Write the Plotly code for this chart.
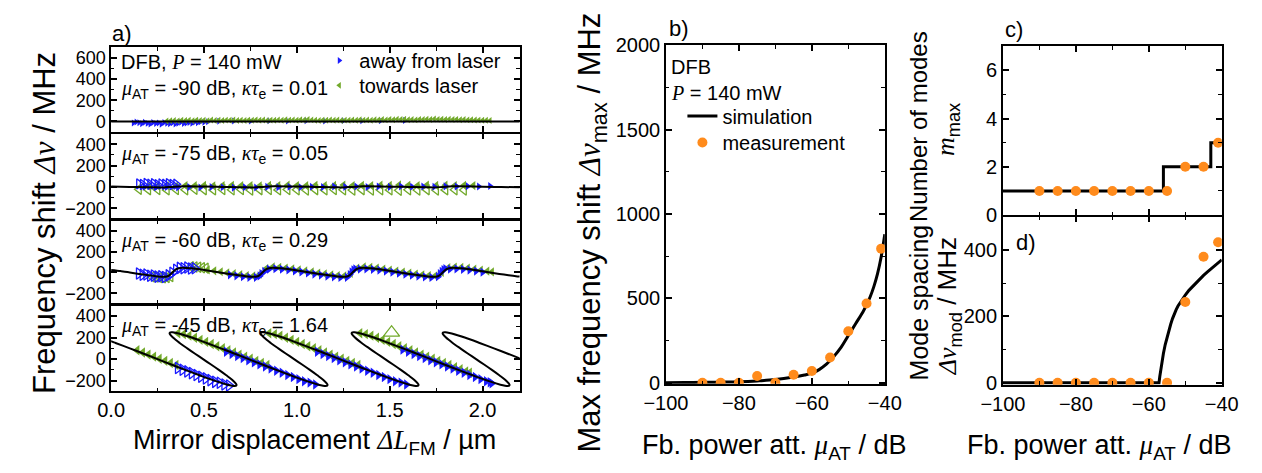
import plotly.graph_objects as go

W, H = 1262, 473
FONT = "Liberation Sans, Arial, sans-serif"
BLUE = "#1a1aff"
GREEN = "#72a92b"
ORANGE = "#ff8b1c"

# ---------------- panel a) : simulation curves ----------------
a1_sim_x = [0.0, 2.2]
a1_sim_y = [0, 0]

a2_sim_x = [0.0, 0.1, 0.2, 0.28, 0.33, 0.39, 0.5, 0.6, 0.7, 0.77, 0.815, 0.87, 1.0, 1.1, 1.2, 1.25,
            1.30, 1.355, 1.5, 1.6, 1.7, 1.735, 1.785, 1.84, 2.0, 2.1, 2.2]
a2_sim_y = [3, 0, -3, -5, 0, 5, 3, 0, -3, -5, 0, 5, 3, 0, -3, -5, 0, 5, 2, 0, -3, -5, 0, 5, 2, -1, -4]

a3_sim_x = [0.00, 0.05, 0.10, 0.15, 0.20, 0.24, 0.28, 0.30, 0.315, 0.33, 0.345, 0.36, 0.385, 0.43, 0.485,
            0.535, 0.585, 0.635, 0.685, 0.725, 0.765, 0.785, 0.80, 0.815, 0.83, 0.845, 0.87, 0.915, 0.97,
            1.02, 1.07, 1.12, 1.17, 1.21, 1.25, 1.27, 1.285, 1.30, 1.315, 1.33, 1.355, 1.40, 1.455,
            1.505, 1.555, 1.605, 1.655, 1.695, 1.735, 1.755, 1.77, 1.785, 1.80, 1.815, 1.84, 1.885, 1.94,
            1.99, 2.04, 2.09, 2.14, 2.18, 2.20]
a3_sim_y = [24, 14, 0, -14, -27, -36, -41, -38, -25, 0, 25, 38, 45, 40, 28,
            14, 0, -14, -27, -36, -41, -38, -25, 0, 25, 38, 45, 40, 28,
            14, 0, -14, -27, -36, -41, -38, -25, 0, 25, 38, 45, 40, 28,
            14, 0, -14, -27, -36, -41, -38, -25, 0, 25, 38, 45, 40, 28,
            14, 0, -14, -27, -36, -39]

# kappa*tau_e = 1.64: one loop (forward branch from the upper tip,
# backward branch from the lower tip) and the x positions of the upper tips
a4_tip_x = [-0.165, 0.325, 0.815, 1.305, 1.795]
a4_fwd_dx = [0, 0.0055, 0.014, 0.039, 0.109, 0.189, 0.266, 0.341, 0.415, 0.489, 0.564, 0.641,
             0.721, 0.791, 0.816, 0.8245, 0.830]
a4_fwd_y = [250, 249.5, 247.5, 237.5, 200, 150, 100, 50, 0, -50, -100, -150, -200, -237.5,
            -247.5, -249.5, -250]
a4_bwd_dx = [0, 0.008, 0.010, -0.008, -0.045, -0.085, -0.127, -0.170, -0.213, -0.255, -0.296,
             -0.332, -0.350, -0.348, -0.340]
a4_bwd_y = [-250, -247.5, -237.5, -200, -150, -100, -50, 0, 50, 100, 150, 200, 237.5, 247.5, 250]

# ---------------- panel a) : measurements ----------------
a1_away_x = [0.12, 0.135, 0.15, 0.165, 0.18, 0.195, 0.21, 0.225, 0.24, 0.255, 0.27, 0.285, 0.30, 0.315,
             0.33, 0.345, 0.36, 0.375, 0.39, 0.405, 0.42, 0.435, 0.45, 0.465, 0.48, 0.50, 0.52,
             0.58, 0.66, 0.75, 0.85, 0.95, 1.05, 1.15, 1.25, 1.35, 1.45, 1.58]
a1_away_y = [-15, -5, -12, -22, -8, -18, -25, -10, -20, -14, -26, -9, -18, -22, -12, -24, -16, -8, -20,
             -14, -10, -18, -6, -12, -4, -8, -2, 2, 5, 3, 6, 4, 7, 5, 8, 6, 7, 9]
a1_toward_x = [0.30, 0.32, 0.34, 0.36, 0.38, 0.40, 0.42, 0.44, 0.46, 0.48, 0.50, 0.52, 0.54, 0.56,
               0.58, 0.60, 0.62, 0.64, 0.66, 0.68, 0.70, 0.72, 0.74, 0.76, 0.78, 0.80, 0.82, 0.84,
               0.86, 0.88, 0.90, 0.92, 0.94, 0.96, 0.98, 1.00, 1.02, 1.04, 1.06, 1.08, 1.10, 1.12,
               1.14, 1.16, 1.18, 1.20, 1.22, 1.24, 1.26, 1.28, 1.30, 1.32, 1.34, 1.36, 1.38, 1.40,
               1.42, 1.44, 1.46, 1.48, 1.50, 1.52, 1.54, 1.56, 1.58, 1.60, 1.62, 1.64, 1.66, 1.68,
               1.70, 1.72, 1.74, 1.76, 1.78, 1.80, 1.82, 1.84, 1.86, 1.88, 1.90, 1.92, 1.94, 1.96,
               1.98, 2.00, 2.02, 2.04]
a1_toward_y = [5, 8, 10, 6, 12, 9, 11, 7, 13, 10, 12, 8, 14, 10, 12, 9, 13, 11, 14, 10,
               12, 9, 13, 11, 15, 12, 14, 10, 13, 11, 15, 12, 16, 13, 15, 12, 17, 14, 18, 15,
               12, 9, 13, 11, 15, 12, 14, 10, 13, 11, 15, 12, 16, 13, 15, 12, 17, 14, 18, 15,
               20, 17, 22, 18, 21, 17, 19, 15, 20, 18, 22, 19, 23, 20, 21, 18, 22, 19, 20, 17,
               19, 15, 16, 14, 13, 12, 11, 10]

a2_away_open_x = [0.15, 0.17, 0.19, 0.21, 0.23, 0.25, 0.27, 0.29, 0.31, 0.33, 0.35]
a2_away_open_y = [28, 22, 32, 25, 30, 20, 28, 24, 30, 22, 26]
a2_away_x = [0.18, 0.24, 0.30, 0.36, 0.42, 0.48, 0.54, 0.60, 0.66, 0.72, 0.78, 0.84, 0.90, 0.96,
             1.02, 1.08, 1.14, 1.20, 1.26, 1.32, 1.38, 1.44, 1.50, 1.56, 1.62, 1.68, 1.74, 1.80,
             1.86, 1.92, 1.98, 2.04]
a2_away_y = [2, -4, 0, -6, -2, -5, -1, -4, -7, -3, -5, 0, -4, 2, -3, 1, -2, 3, 0, 4,
             -1, 3, 0, 5, 2, 4, 1, 5, 3, 6, 4, 8]
a2_toward_x = [0.20, 0.25, 0.30, 0.35, 0.40, 0.45, 0.50, 0.55, 0.60, 0.65, 0.70, 0.75, 0.80, 0.85,
               0.90, 0.95, 1.00, 1.05, 1.10, 1.15, 1.20, 1.25, 1.30, 1.35, 1.40, 1.45, 1.50, 1.55,
               1.60, 1.65, 1.70, 1.75, 1.80, 1.85, 1.90, 1.95]
a2_toward_y = [8, 10, 12, 9, 13, 11, 14, 10, 12, 15, 11, 13, 10, 14, 12, 16, 13, 11, 15, 12,
               14, 17, 13, 15, 12, 16, 14, 18, 15, 13, 17, 14, 16, 12, 15, 13]
a2_toward_open_x = [0.15, 0.20, 0.25, 0.30, 0.35, 0.40, 0.45, 0.50, 0.55, 0.60, 0.65, 0.70, 0.75,
                    0.80, 0.85, 0.90, 0.95, 1.00, 1.05, 1.10, 1.15, 1.20, 1.25, 1.30, 1.35, 1.40,
                    1.45, 1.50, 1.55, 1.60, 1.65, 1.70, 1.75, 1.80, 1.85, 1.90]
a2_toward_open_y = [-22, -26, -24, -28, -25, -27, -23, -26, -28, -24, -27, -25, -29, -26, -24, -28,
                    -25, -27, -30, -26, -28, -25, -27, -29, -26, -30, -27, -28, -31, -27, -29, -26,
                    -30, -28, -27, -29]

a3_away_open_x = [0.15, 0.17, 0.19, 0.21, 0.23, 0.25, 0.27, 0.29, 0.31, 0.33, 0.35, 0.37, 0.39,
                  0.41, 0.43, 0.45]
a3_away_open_y = [-10, -22, -20, -32, -30, -40, -36, -44, -28, -2, 26, 44, 40, 48, 38, 40]
a3_toward_open_x = [0.22, 0.24, 0.26, 0.28, 0.30, 0.32, 0.43, 0.45, 0.47, 0.49, 0.51]
a3_toward_open_y = [-42, -45, -48, -50, -48, -40, 55, 52, 50, 45, 42]
a3_toward_x = [0.52, 0.555, 0.59, 0.625, 0.66, 0.695, 0.73, 0.765, 0.80, 0.835, 0.87, 0.905, 0.94,
               0.975, 1.01, 1.045, 1.08, 1.115, 1.15, 1.185, 1.22, 1.255, 1.29, 1.325, 1.36, 1.395,
               1.43, 1.465, 1.50, 1.535, 1.57, 1.605, 1.64, 1.675, 1.71, 1.745, 1.78, 1.815, 1.85,
               1.885, 1.92, 1.955, 1.99, 2.025, 2.05]
a3_toward_y = [26, 16, 7, -3, -12, -21, -29, -33, -17, 37, 53, 49, 43, 35, 25, 15, 5, -5, -14, -22,
               -29, -33, -9, 41, 53, 49, 42, 33, 23, 14, 4, -6, -15, -23, -30, -32, 0, 46, 52, 48,
               41, 32, 22, 12, 5]
a3_away_x = [0.64, 0.675, 0.71, 0.745, 0.78, 0.80, 0.81, 0.825, 0.85, 0.885, 0.92, 0.955, 0.99,
             1.025, 1.06, 1.095, 1.13, 1.165, 1.20, 1.235, 1.27, 1.285, 1.295, 1.305, 1.315, 1.34,
             1.375, 1.41, 1.445, 1.48, 1.515, 1.55, 1.585, 1.62, 1.655, 1.69, 1.725, 1.76, 1.77,
             1.78, 1.79, 1.80, 1.825, 1.86, 1.895, 1.93, 1.965, 2.00]
a3_away_y = [-23, -32, -41, -47, -47, -33, -10, 10, 32, 36, 31, 24, 15, 5, -5, -15, -25, -34, -42,
             -48, -46, -20, 5, 25, 35, 33, 35, 30, 23, 13, 3, -7, -17, -26, -35, -43, -48, -40,
             -10, 10, 28, 38, 33, 35, 30, 23, 13, 3]

a4_toward_x = [0.14, 0.17, 0.20, 0.23, 0.26, 0.29, 0.32, 0.35,
               0.36, 0.39, 0.42, 0.45, 0.48, 0.51, 0.54, 0.57, 0.60, 0.63, 0.66, 0.69, 0.72, 0.75,
               0.78, 0.81, 0.84,
               0.85, 0.88, 0.91, 0.94, 0.97, 1.00, 1.03, 1.06, 1.09, 1.12, 1.15, 1.18, 1.21, 1.24,
               1.27, 1.30, 1.33,
               1.34, 1.37, 1.40, 1.43, 1.46, 1.49, 1.52, 1.55, 1.58, 1.61, 1.64, 1.67, 1.70, 1.73,
               1.76, 1.79, 1.82, 1.85, 1.88, 1.91, 1.93]
a4_toward_y = [82, 62, 42, 23, 4, -16, -36, -55,
               240, 232, 218, 198, 179, 160, 140, 120, 101, 82, 62, 42, 23, 4, -16, -36, -55,
               240, 232, 218, 198, 179, 160, 140, 120, 101, 82, 62, 42, 23, 4, -16, -36, -55,
               240, 232, 218, 198, 179, 160, 140, 120, 101, 82, 62, 42, 23, 4, -16, -36, -55,
               -75, -94, -114, -127]
a4_away_x = [0.62, 0.65, 0.68, 0.71, 0.74, 0.77, 0.80, 0.83, 0.86, 0.89, 0.92, 0.95, 0.98, 1.01,
             1.04, 1.07, 1.10,
             1.11, 1.14, 1.17, 1.20, 1.23, 1.26, 1.29, 1.32, 1.35, 1.38, 1.41, 1.44, 1.47, 1.50,
             1.53, 1.56, 1.59,
             1.57, 1.60, 1.63, 1.66, 1.69, 1.72, 1.75, 1.78, 1.81, 1.84, 1.87, 1.90, 1.93, 1.96,
             1.99, 2.02, 2.04, 2.05]
a4_away_y = [68, 48, 29, 10, -10, -30, -49, -68, -88, -108, -127, -147, -166, -186, -205, -218, -235,
             68, 48, 29, 10, -10, -30, -49, -68, -88, -108, -127, -147, -166, -186, -205, -218, -235,
             88, 68, 48, 29, 10, -10, -30, -49, -68, -88, -108, -127, -147, -166, -186, -205, -215,
             -225]
a4_away_open_x = [0.36, 0.385, 0.41, 0.435, 0.46, 0.485, 0.51, 0.535, 0.56, 0.585, 0.61, 0.635]
a4_away_open_y = [-82, -98, -114, -130, -147, -163, -179, -195, -211, -220, -236, -245]
a4_toward_open_x = [1.51]
a4_toward_open_y = [245]

# ---------------- panels b), c), d) ----------------
att_meas = [-90, -85, -80, -75, -70, -65, -60, -55, -50, -45, -41]
b_meas_y = [0, 0, 0, 40, 0, 48, 70, 150, 305, 470, 795]
c_meas_y = [1, 1, 1, 1, 1, 1, 1, 1, 2, 2, 3]
d_meas_y = [0, 0, 0, 0, 0, 0, 0, 0, 243, 379, 423]

b_sim_x = [-100, -95, -90, -85, -80, -75, -70, -65, -62, -60, -58, -56, -55, -54, -52, -50, -48,
           -46, -45, -44, -43, -42, -41, -40]
b_sim_y = [1, 2, 3, 4, 6, 11, 19, 34, 46, 57, 78, 110, 132, 155, 210, 280, 350, 420, 462, 510,
           570, 645, 745, 880]
c_sim_x = [-100, -56, -43, -40]
c_sim_y = [1, 2, 3, 3]
d_sim_x = [-100, -57.2, -57, -56.7, -56.4, -56, -55.5, -55, -54.5, -54, -53.5, -53, -52.5, -52, -51,
           -50, -49, -48, -47, -46, -45, -44, -43, -42, -41, -40]
d_sim_y = [0, 0, 18, 42, 64, 88, 115, 138, 158, 176, 193, 208, 220, 231, 249, 264, 278, 290, 302,
           313, 323, 333, 342, 351, 361, 370]

# ---------------- build figure ----------------
a4_sim_x, a4_sim_y = [], []
for k, t in enumerate(a4_tip_x):
    a4_sim_x += [t + d for d in a4_fwd_dx]
    a4_sim_y += a4_fwd_y
    if k < len(a4_tip_x) - 1:
        b = t + a4_fwd_dx[-1]
        a4_sim_x += [b + d for d in a4_bwd_dx[1:-1]]
        a4_sim_y += a4_bwd_y[1:-1]

fig = go.Figure()


def add(x, y, xa, ya, **kw):
    kw.setdefault("showlegend", False)
    fig.add_trace(go.Scatter(x=x, y=y, xaxis=xa, yaxis=ya, **kw))


def mk(symbol, color, size, hollow=False):
    if hollow:
        return dict(symbol=symbol + "-open", color=color, size=size, line=dict(color=color, width=1.3))
    return dict(symbol=symbol, color=color, size=size, line=dict(width=0))


# a1
add(a1_away_x, a1_away_y, "x", "y", mode="markers", marker=mk("triangle-right", BLUE, 6),
    name="away from laser", showlegend=True, legend="legend")
add(a1_toward_x, a1_toward_y, "x", "y", mode="markers", marker=mk("triangle-left", GREEN, 6),
    name="towards laser", showlegend=True, legend="legend2")
add(a1_sim_x, a1_sim_y, "x", "y", mode="lines", line=dict(color="black", width=2))
# a2
add(a2_toward_open_x, a2_toward_open_y, "x2", "y2", mode="markers", marker=mk("triangle-left", GREEN, 9, True))
add(a2_toward_x, a2_toward_y, "x2", "y2", mode="markers", marker=mk("triangle-left", GREEN, 8))
add(a2_away_open_x, a2_away_open_y, "x2", "y2", mode="markers", marker=mk("triangle-right", BLUE, 9, True))
add(a2_away_x, a2_away_y, "x2", "y2", mode="markers", marker=mk("triangle-right", BLUE, 7))
add(a2_sim_x, a2_sim_y, "x2", "y2", mode="lines", line=dict(color="black", width=2, shape="spline"))
# a3
add(a3_toward_open_x, a3_toward_open_y, "x3", "y3", mode="markers", marker=mk("triangle-left", GREEN, 9, True))
add(a3_away_open_x, a3_away_open_y, "x3", "y3", mode="markers", marker=mk("triangle-right", BLUE, 10, True))
add(a3_toward_x, a3_toward_y, "x3", "y3", mode="markers", marker=mk("triangle-left", GREEN, 8))
add(a3_away_x, a3_away_y, "x3", "y3", mode="markers", marker=mk("triangle-right", BLUE, 8))
add(a3_sim_x, a3_sim_y, "x3", "y3", mode="lines", line=dict(color="black", width=2, shape="spline", smoothing=0.6))
# a4
add(a4_toward_x, a4_toward_y, "x4", "y4", mode="markers", marker=mk("triangle-left", GREEN, 9))
add(a4_away_x, a4_away_y, "x4", "y4", mode="markers", marker=mk("triangle-right", BLUE, 9))
add(a4_away_open_x, a4_away_open_y, "x4", "y4", mode="markers", marker=mk("triangle-right", BLUE, 10, True))
add(a4_toward_open_x, a4_toward_open_y, "x4", "y4", mode="markers", marker=mk("triangle-up", GREEN, 14, True))
add(a4_sim_x, a4_sim_y, "x4", "y4", mode="lines", line=dict(color="black", width=2, shape="spline", smoothing=0.8))
# b
add(b_sim_x, b_sim_y, "x5", "y5", mode="lines", line=dict(color="black", width=3, shape="spline"),
    name="simulation", showlegend=True, legend="legend3")
add(att_meas, b_meas_y, "x5", "y5", mode="markers", marker=dict(color=ORANGE, size=10),
    name="measurement", showlegend=True, legend="legend4")
# c
add(c_sim_x, c_sim_y, "x6", "y6", mode="lines", line=dict(color="black", width=3, shape="hv"))
add(att_meas, c_meas_y, "x6", "y6", mode="markers", marker=dict(color=ORANGE, size=10))
# d
add(d_sim_x, d_sim_y, "x7", "y7", mode="lines", line=dict(color="black", width=3))
add(att_meas, d_meas_y, "x7", "y7", mode="markers", marker=dict(color=ORANGE, size=10))

LW = 1.6


def dom_x(p0, p1):
    return [p0 / W, p1 / W]


def dom_y(top, bottom):
    return [1 - bottom / H, 1 - top / H]


def axis(domain, rng, anchor, dtick, minor, size=20, labels=True, fmt=None):
    d = dict(domain=domain, range=rng, anchor=anchor, showline=True, linecolor="black",
             linewidth=LW, mirror="ticks", ticks="inside", ticklen=6, tickwidth=1.6,
             tickcolor="black", showgrid=False, zeroline=False, tickmode="linear", tick0=0,
             dtick=dtick, showticklabels=labels,
             tickfont=dict(family=FONT, size=size, color="black"),
             minor=dict(ticks="inside", ticklen=3.5, tickwidth=1.4, tickcolor="black",
                        tick0=0, dtick=minor, showgrid=False))
    if fmt:
        d["tickformat"] = fmt
    return d


AX = dom_x(91, 513)
rows = [(38, 127), (127 + LW, 218), (218 + LW, 307), (307 + LW, 399)]
layout = dict(
    width=W, height=H, margin=dict(l=0, r=0, t=0, b=0),
    paper_bgcolor="white", plot_bgcolor="white",
    font=dict(family=FONT, size=20, color="black"),
)
for i, (t, b) in enumerate(rows):
    n = "" if i == 0 else str(i + 1)
    layout["xaxis" + n] = axis(AX, [0, 2.2], "y" + n, 0.5, 0.25, labels=(i == 3), fmt=".1f")
    yr = [-100, 700] if i == 0 else [-300, 500]
    layout["yaxis" + n] = axis(dom_y(t, b), yr, "x" + n, 200, 100, size=18)

layout["xaxis5"] = axis(dom_x(664, 890), [-100, -40], "y5", 20, 10)
layout["yaxis5"] = axis(dom_y(36, 391), [-6, 2000], "x5", 500, 250)
layout["xaxis6"] = axis(dom_x(1012, 1238), [-100, -40], "y6", 20, 10, labels=False)
layout["yaxis6"] = axis(dom_y(37, 214), [0, 7], "x6", 2, 1)
layout["xaxis7"] = axis(dom_x(1012, 1238), [-100, -40], "y7", 20, 10)
layout["yaxis7"] = axis(dom_y(214 + LW, 392), [-6, 500], "x7", 200, 100)


def leg(text_left, center_y, off):
    return dict(x=(text_left - off) / W, y=1 - center_y / H, xanchor="left", yanchor="middle",
                bgcolor="rgba(0,0,0,0)", font=dict(family=FONT, size=20, color="black"),
                tracegroupgap=0)


layout["legend"] = leg(360, 52, 54)
layout["legend2"] = leg(360, 78, 54)
layout["legend3"] = leg(723, 110, 42)
layout["legend4"] = leg(723, 138, 42)


def it(s):
    return '<span style="font-family:Liberation Serif, Times New Roman, serif"><i>' + s + '</i></span>'


anns = []


def ann(text, px, py, size=20, xanchor="left", angle=0):
    anns.append(dict(text=text, x=px / W, y=1 - py / H, xref="paper", yref="paper",
                     xanchor=xanchor, yanchor="middle", showarrow=False, textangle=angle,
                     font=dict(family=FONT, size=size, color="black")))


ann("a)", 90, 24, 22)
ann("b)", 665, 18, 22)
ann("c)", 1012, 19, 22)
ann("d)", 1023, 243, 22)
ann("DFB, " + it("P") + " = 140 mW", 99, 54)
ann(it("μ") + "<sub>AT</sub> = -90 dB, " + it("κτ") + "<sub>e</sub> = 0.01", 99, 82)
ann(it("μ") + "<sub>AT</sub> = -75 dB, " + it("κτ") + "<sub>e</sub> = 0.05", 99, 150)
ann(it("μ") + "<sub>AT</sub> = -60 dB, " + it("κτ") + "<sub>e</sub> = 0.29", 99, 242)
ann(it("μ") + "<sub>AT</sub> = -45 dB, " + it("κτ") + "<sub>e</sub> = 1.64", 99, 331)
ann("DFB", 667, 59)
ann(it("P") + " = 140 mW", 667, 86)

ann("Frequency shift " + it("Δν") + " / MHz", 22, 222, 31, "center", -90)
ann("Mirror displacement " + it("ΔL") + "<sub>FM</sub> / µm", 301, 452, 27, "center")
ann("Max frequency shift " + it("Δν") + "<sub>max</sub> / MHz", 588, 232, 31, "center", -90)
ann("Fb. power att. " + it("μ") + "<sub>AT</sub> / dB", 776, 457, 27, "center")
ann("Number of modes", 925, 121, 24, "center", -90)
ann(it("m") + "<sub>max</sub>", 955, 124, 26, "center", -90)
ann("Mode spacing", 925, 306, 25, "center", -90)
ann(it("Δν") + "<sub>mod</sub> / MHz", 956, 310, 26, "center", -90)
ann("Fb. power att. " + it("μ") + "<sub>AT</sub> / dB", 1111, 457, 27, "center")
layout["annotations"] = anns

fig.update_layout(**layout)
fig.write_html("out.html")
